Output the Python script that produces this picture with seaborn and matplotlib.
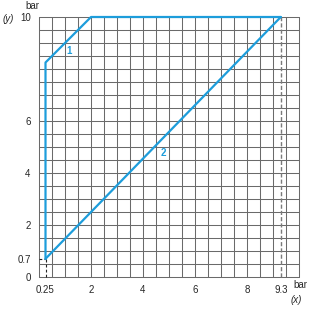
import matplotlib

matplotlib.use("Agg")
import matplotlib.pyplot as plt
import numpy as np
import pandas as pd
import seaborn as sns

# curve data (bar)
line1_x = [0.25, 0.25, 2.0, 9.3]
line1_y = [0.7, 8.25, 10.0, 10.0]
line2_x = [0.25, 9.3]
line2_y = [0.7, 10.0]

x_ticks = [0.25, 2, 4, 6, 8, 9.3]
x_labels = ["0.25", "2", "4", "6", "8", "9.3"]
y_ticks = [0, 0.7, 2, 4, 6, 8, 10]
y_labels = ["0", "0.7", "2", "4", "6", "", "10"]

BLUE = "#1d9ddb"


def main() -> None:
    sns.set_style("white")
    plt.rcParams["font.family"] = ["Liberation Sans", "DejaVu Sans"]

    fig = plt.figure(figsize=(3.09, 3.09), dpi=100)
    ax = fig.add_axes([39 / 309, 32 / 309, 260 / 309, 260 / 309])

    # graph-paper grid every 0.5 bar
    for v in np.arange(0, 10.01, 0.5):
        ax.axvline(v, color="#6a6a6a", lw=0.75, zorder=1)
        ax.axhline(v, color="#6a6a6a", lw=0.75, zorder=1)

    # reference dashes
    ax.plot([0.25, 0.25], [0, 0.7], ls=(0, (2.5, 2)), color="#222222", lw=0.8, zorder=2)
    ax.plot([0, 0.25], [0.7, 0.7], ls=(0, (2.5, 2)), color="#222222", lw=0.8, zorder=2)
    ax.plot([9.3, 9.3], [0, 10], ls=(0, (3, 1.5)), color="#7a7a7a", lw=1.0, zorder=2)

    df1 = pd.DataFrame({"x": line1_x, "y": line1_y})
    df2 = pd.DataFrame({"x": line2_x, "y": line2_y})
    for df in (df1, df2):
        sns.lineplot(
            data=df, x="x", y="y", sort=False, estimator=None,
            color=BLUE, lw=1.6, ax=ax, zorder=3,
        )
    for ln in ax.lines:
        ln.set_clip_on(False)
        ln.set_solid_joinstyle("round")

    ax.text(1.15, 8.7, "1", color=BLUE, fontsize=7, fontweight="bold",
            ha="center", va="center")
    ax.text(4.77, 4.75, "2", color=BLUE, fontsize=7, fontweight="bold",
            ha="center", va="center")

    ax.set_xlim(0, 10)
    ax.set_ylim(0, 10)
    ax.set_xticks(x_ticks)
    ax.set_xticklabels(x_labels)
    ax.set_yticks(y_ticks)
    ax.set_yticklabels(y_labels)
    ax.tick_params(axis="both", labelsize=7, length=3.5, width=0.7,
                   color="#222222", pad=2.5)
    ax.set_xlabel("")
    ax.set_ylabel("")
    for sp in ax.spines.values():
        sp.set_visible(False)

    # axis unit labels
    fig.text(32 / 309, 1 - 6 / 309, "bar", fontsize=7, ha="center", va="center")
    fig.text(8 / 309, 1 - 19 / 309, "(y)", fontsize=7, style="italic",
             ha="center", va="center")
    fig.text(300 / 309, 1 - 285 / 309, "bar", fontsize=7, ha="center", va="center")
    fig.text(296 / 309, 1 - 300 / 309, "(x)", fontsize=7, style="italic",
             ha="center", va="center")

    fig.savefig("out.png", dpi=100)
    plt.close(fig)


if __name__ == "__main__":
    main()
